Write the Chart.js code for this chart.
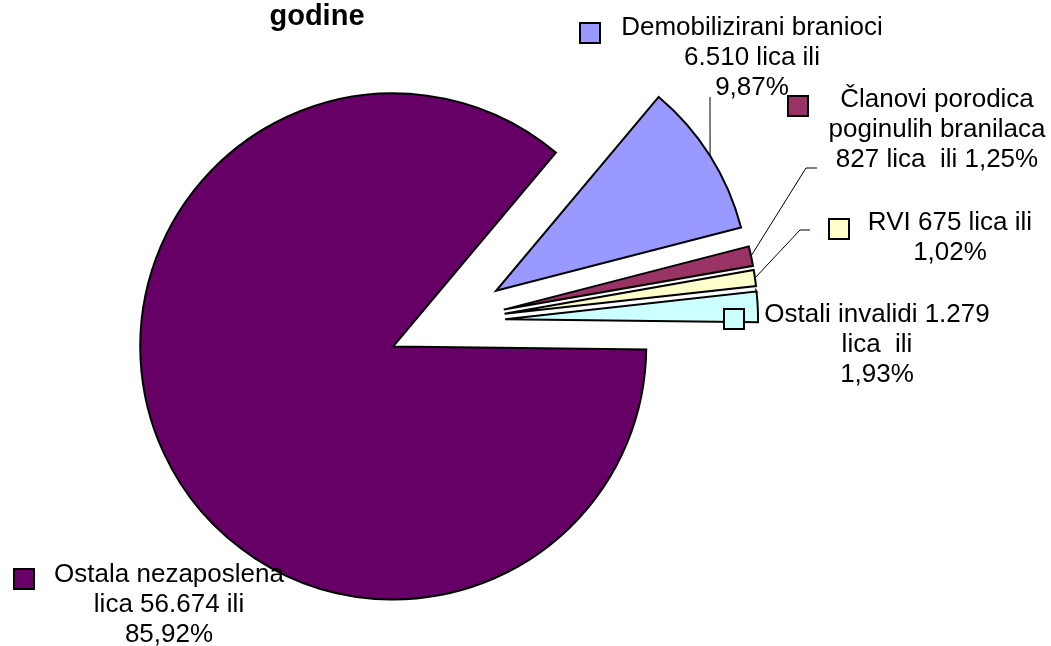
<!DOCTYPE html>
<html>
<head>
<meta charset="utf-8">
<script src="https://cdn.jsdelivr.net/npm/chart.js@4.4.1/dist/chart.umd.min.js"></script>
<style>
  html, body { margin: 0; padding: 0; background: #fff; }
  #wrap { width: 1051px; height: 646px; position: relative; }
</style>
</head>
<body>
<div id="wrap"><canvas id="pieChart"></canvas></div>
<script>
// kategorije i vrijednosti (broj lica)
const categories = ['Demobilizirani branioci', 'Članovi porodica poginulih branilaca', 'RVI', 'Ostali invalidi', 'Ostala nezaposlena lica'];
const values = [6510, 827, 675, 1279, 56674];
const sliceColors = ['#9999FF', '#993366', '#FFFFCC', '#CCFFFF', '#660066'];

// tekst oznaka, red po red, kao na slici
const labelLines = [
    ['Demobilizirani branioci', '6.510 lica ili', '9,87%'],
    ['Članovi porodica', 'poginulih branilaca', '827 lica  ili 1,25%'],
    ['RVI 675 lica ili', '1,02%'],
    ['Ostali invalidi 1.279', 'lica  ili', '1,93%'],
    ['Ostala nezaposlena', 'lica 56.674 ili', '85,92%']
];
const titleText = 'godine';

// raspored oznaka (centar teksta, prva bazna linija, kvadratic, linija do kriske)
const labelLayout = [
    { x: 752, y: 35,  box: [580, 23],  leader: [[710, 97]] },
    { x: 937, y: 107, box: [788, 96],  leader: [[817, 168], [806, 168]] },
    { x: 950, y: 230, box: [829, 219], leader: [[810, 230], [800, 230]] },
    { x: 877, y: 322, box: [724, 309], leader: null },
    { x: 169, y: 582, box: [14, 569],  leader: null }
];

const EXPLODE = 58.6;   // razmak izvucenih kriski
const FONT = '26px "Liberation Sans", Arial, sans-serif';

// sve kriske odmaknute od centra po svojoj simetrali
const explodePlugin = {
    id: 'explode',
    afterDatasetsUpdate(chart) {
        chart.getDatasetMeta(0).data.forEach(arc => {
            const mid = (arc.startAngle + arc.endAngle) / 2;
            arc.x += Math.cos(mid) * EXPLODE;
            arc.y += Math.sin(mid) * EXPLODE;
        });
    }
};

// naslov, oznake, kvadratici i linije
const labelPlugin = {
    id: 'pieLabels',
    afterDatasetsDraw(chart) {
        const ctx = chart.ctx;
        const arcs = chart.getDatasetMeta(0).data;
        ctx.save();

        ctx.fillStyle = '#000';
        ctx.font = 'bold 29px "Liberation Sans", Arial, sans-serif';
        ctx.textAlign = 'center';
        ctx.textBaseline = 'alphabetic';
        ctx.fillText(titleText, 317, 25);

        labelLayout.forEach((lay, i) => {
            const arc = arcs[i];
            // linija do kriske
            if (lay.leader) {
                const mid = (arc.startAngle + arc.endAngle) / 2;
                const px = arc.x + Math.cos(mid) * arc.outerRadius;
                const py = arc.y + Math.sin(mid) * arc.outerRadius;
                ctx.beginPath();
                ctx.strokeStyle = '#000';
                ctx.lineWidth = 1;
                ctx.moveTo(lay.leader[0][0], lay.leader[0][1]);
                lay.leader.slice(1).forEach(p => ctx.lineTo(p[0], p[1]));
                ctx.lineTo(px, py);
                ctx.stroke();
            }
            // tekst
            ctx.fillStyle = '#000';
            ctx.font = FONT;
            ctx.textAlign = 'center';
            labelLines[i].forEach((line, j) => {
                ctx.fillText(line, lay.x, lay.y + j * 30);
            });
            // kvadratic legende
            ctx.fillStyle = sliceColors[i];
            ctx.fillRect(lay.box[0], lay.box[1], 20, 20);
            ctx.strokeStyle = '#000';
            ctx.lineWidth = 2;
            ctx.strokeRect(lay.box[0], lay.box[1], 20, 20);
        });
        ctx.restore();
    }
};

const ChartP = document.getElementById('pieChart');
const pieChart = new Chart(ChartP, {
    type: 'pie',
    data: {
        labels: categories,
        datasets: [{
            data: values,
            backgroundColor: sliceColors,
            borderColor: '#000',
            borderWidth: 2,
            borderJoinStyle: 'miter'
        }]
    },
    options: {
        responsive: true,
        maintainAspectRatio: false,
        animation: false,
        events: [],
        rotation: 40,
        radius: 253,
        layout: {
            padding: { left: 0, right: 158, top: 0, bottom: 2 }
        },
        plugins: {
            legend: { display: false },
            title: { display: false },
            tooltip: { enabled: false }
        }
    },
    plugins: [explodePlugin, labelPlugin]
});
</script>
</body>
</html>
